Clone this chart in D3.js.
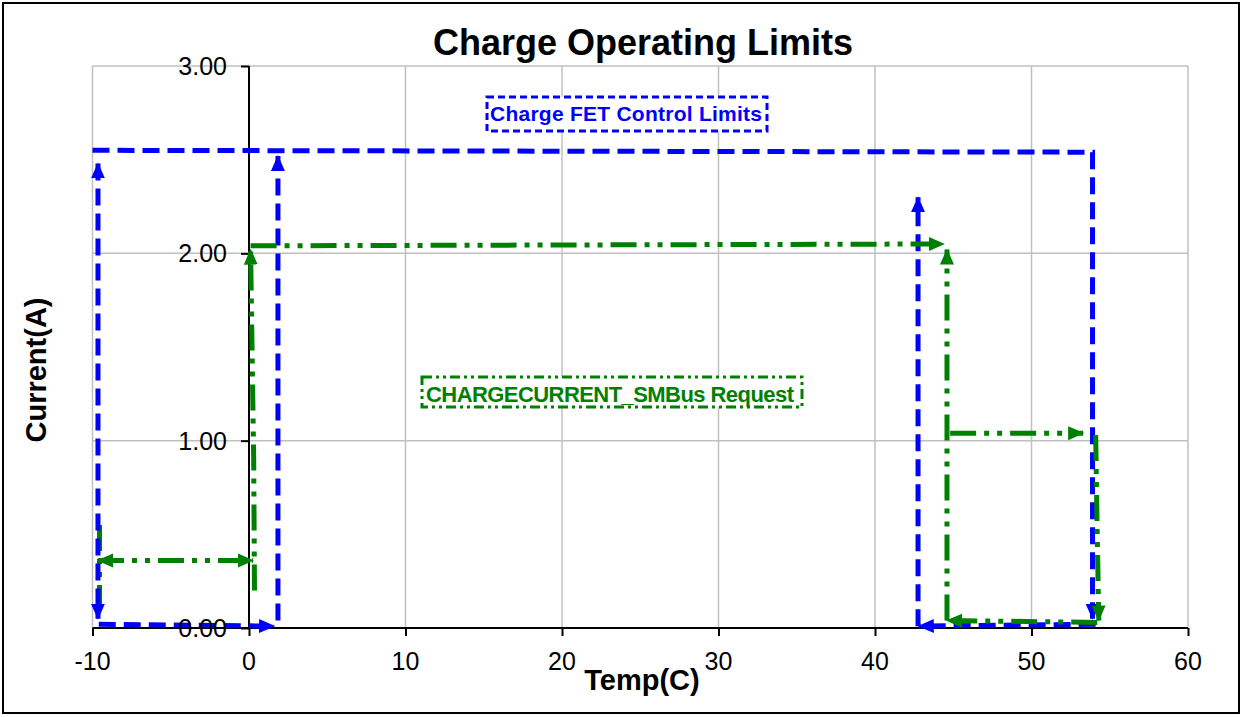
<!DOCTYPE html>
<html>
<head>
    <meta charset="utf-8">
    <title>Charge Operating Limits</title>
    <script src="https://cdn.jsdelivr.net/npm/d3@7"></script>
    <style>
        body { margin: 0; background: #fff; }
        svg text { font-family: "Liberation Sans", Arial, sans-serif; }
    </style>
</head>
<body>
<svg id="chart" width="1243" height="717"></svg>
<script>
    // axis ticks
    const xTicks = [-10, 0, 10, 20, 30, 40, 50, 60]
    const yTicks = [0, 1, 2, 3]
    const yTickLabels = ["0.00", "1.00", "2.00", "3.00"]

    // Charge FET control limits (blue), [temp, current]
    const fetTop = [[-10, 2.55], [53.9, 2.54], [53.9, 0.05]]
    const fetColdWarm = [[-9.6, 0.02], [1.6, 0.01]]
    const fetColdOn = [[1.85, 0.04], [1.85, 2.52]]
    const fetHotCool = [[54.1, 0.02], [42.8, 0.01]]
    const fetHotOn = [[42.75, 0.01], [42.75, 2.30]]
    const fetColdOff = [[-9.65, 2.48], [-9.65, 0.05]]

    // CHARGECURRENT SMBus request (green), [temp, current]
    const reqTop = [[0.1, 2.04], [44.4, 2.05]]
    const reqHotOn = [[44.6, 0.04], [44.6, 2.02]]
    const reqHotMid = [[44.8, 1.04], [53.3, 1.04]]
    const reqHotOff = [[54.1, 1.03], [54.2, 0.5], [54.3, 0.04]]
    const reqHotCool = [[54.2, 0.03], [44.6, 0.04]]
    const reqColdOn = [[0.35, 0.2], [0.3, 0.9], [0.1, 2.02]]
    const reqColdBand = [[-9.65, 0.36], [0.25, 0.36]]
    const reqColdOff = [[-9.55, 0.55], [-9.55, 0.08]]

    const blue = "#0000ff"
    const green = "#008000"

    // series list: points, colour, arrow at start / end
    const series = [
        {pts: fetTop, c: blue, s: false, e: true},
        {pts: fetColdWarm, c: blue, s: false, e: true},
        {pts: fetColdOn, c: blue, s: false, e: true},
        {pts: fetHotCool, c: blue, s: false, e: true},
        {pts: fetHotOn, c: blue, s: false, e: true},
        {pts: reqTop, c: green, s: false, e: true},
        {pts: reqHotOn, c: green, s: false, e: true},
        {pts: reqHotMid, c: green, s: false, e: true},
        {pts: reqHotOff, c: green, s: false, e: true},
        {pts: reqHotCool, c: green, s: false, e: true},
        {pts: reqColdOn, c: green, s: false, e: true},
        {pts: reqColdBand, c: green, s: true, e: true},
        {pts: reqColdOff, c: green, s: false, e: false},
        {pts: fetColdOff, c: blue, s: true, e: true}
    ]

    const svg = d3.select("#chart")

    let x = d3.scaleLinear().domain([-10, 60]).range([92.5, 1188])
    let y = d3.scaleLinear().domain([0, 3]).range([628, 66])

    // outer border
    svg.append("rect")
        .attr("x", 3).attr("y", 3)
        .attr("width", 1236).attr("height", 710)
        .attr("fill", "none").attr("stroke", "#000").attr("stroke-width", 2)

    // arrow heads
    let defs = svg.append("defs")
    ;[["blue", blue], ["green", green]].forEach(([name, col]) => {
        defs.append("marker")
            .attr("id", "arrow-" + name)
            .attr("viewBox", "0 -8 16 16")
            .attr("refX", 15).attr("refY", 0)
            .attr("markerWidth", 16).attr("markerHeight", 16)
            .attr("markerUnits", "userSpaceOnUse")
            .attr("orient", "auto-start-reverse")
            .append("path")
            .attr("d", "M0,-7L16,0L0,7Z")
            .attr("fill", col)
    })

    // gridlines
    svg.append("g").selectAll("line")
        .data(xTicks.filter(d => d !== 0))
        .enter().append("line")
        .attr("x1", d => x(d)).attr("x2", d => x(d))
        .attr("y1", y(0)).attr("y2", y(3))
        .attr("stroke", "#c0c0c0").attr("stroke-width", 1.5)

    svg.append("g").selectAll("line")
        .data(yTicks.filter(d => d !== 0))
        .enter().append("line")
        .attr("x1", x(-10)).attr("x2", x(60))
        .attr("y1", d => y(d)).attr("y2", d => y(d))
        .attr("stroke", "#c0c0c0").attr("stroke-width", 1.5)

    // axes crossing at 0,0
    let xAxis = d3.axisBottom(x).tickValues(xTicks).tickSize(8).tickFormat("")
    svg.append("g")
        .attr("transform", `translate(0,${y(0)})`)
        .call(xAxis)
        .call(g => g.select(".domain").attr("stroke-width", 2).attr("d", `M${x(-10)},0H${x(60)}`))
        .call(g => g.selectAll(".tick line").attr("stroke-width", 2))

    let yAxis = d3.axisLeft(y).tickValues(yTicks).tickSize(8).tickFormat("")
    svg.append("g")
        .attr("transform", `translate(${x(0)},0)`)
        .call(yAxis)
        .call(g => g.select(".domain").attr("stroke-width", 2).attr("d", `M0,${y(0)}V${y(3)}`))
        .call(g => g.selectAll(".tick line").attr("stroke-width", 2))

    // series lines
    let line = d3.line().x(d => x(d[0])).y(d => y(d[1]))

    svg.append("g").selectAll("path")
        .data(series)
        .enter().append("path")
        .attr("d", d => line(d.pts))
        .attr("fill", "none")
        .attr("stroke", d => d.c)
        .attr("stroke-width", 5)
        .attr("stroke-dasharray", d => d.c === blue ? "17,8" : "26,8,5,8,5,8")
        .attr("marker-start", d => d.s ? `url(#arrow-${d.c === blue ? "blue" : "green"})` : null)
        .attr("marker-end", d => d.e ? `url(#arrow-${d.c === blue ? "blue" : "green"})` : null)

    // tick labels (drawn over the series, like the original)
    svg.append("g").selectAll("text")
        .data(xTicks)
        .enter().append("text")
        .attr("x", d => x(d))
        .attr("y", 670)
        .attr("text-anchor", "middle")
        .attr("font-size", 25)
        .text(d => d)

    svg.append("g").selectAll("text")
        .data(yTicks)
        .enter().append("text")
        .attr("x", 227)
        .attr("y", d => y(d) + 9)
        .attr("text-anchor", "end")
        .attr("font-size", 25)
        .text((d, i) => yTickLabels[i])

    // titles
    svg.append("text")
        .attr("x", 643).attr("y", 55)
        .attr("text-anchor", "middle")
        .attr("font-size", 36).attr("font-weight", "bold")
        .text("Charge Operating Limits")

    svg.append("text")
        .attr("x", 642).attr("y", 690)
        .attr("text-anchor", "middle")
        .attr("font-size", 29).attr("font-weight", "bold")
        .text("Temp(C)")

    svg.append("text")
        .attr("transform", "translate(46,370) rotate(-90)")
        .attr("text-anchor", "middle")
        .attr("font-size", 29).attr("font-weight", "bold")
        .text("Current(A)")

    // series label boxes
    svg.append("rect")
        .attr("x", 487).attr("y", 97).attr("width", 280).attr("height", 34)
        .attr("fill", "#fff").attr("stroke", blue).attr("stroke-width", 3)
        .attr("stroke-dasharray", "7,4")
    svg.append("text")
        .attr("x", 626).attr("y", 121)
        .attr("text-anchor", "middle")
        .attr("font-size", 21).attr("font-weight", "bold")
        .attr("fill", blue)
        .attr("textLength", 272)
        .text("Charge FET Control Limits")

    svg.append("rect")
        .attr("x", 422).attr("y", 377).attr("width", 380).attr("height", 30)
        .attr("fill", "#fff").attr("stroke", green).attr("stroke-width", 3)
        .attr("stroke-dasharray", "10,4,3,4,3,4")
    svg.append("text")
        .attr("x", 610).attr("y", 402)
        .attr("text-anchor", "middle")
        .attr("font-size", 22).attr("font-weight", "bold")
        .attr("fill", green)
        .attr("textLength", 368)
        .text("CHARGECURRENT_SMBus Request")
</script>
</body>
</html>
